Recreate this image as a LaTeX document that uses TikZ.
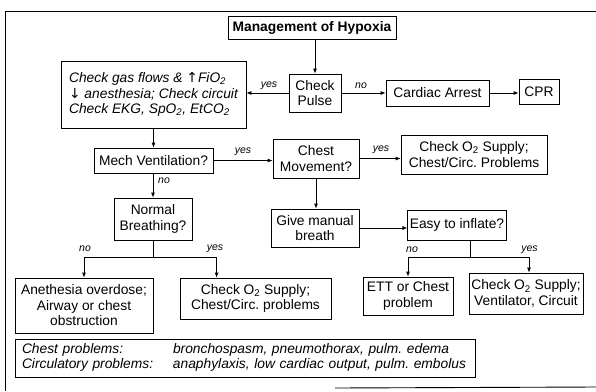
\documentclass[tikz,border=0pt]{standalone}
\usepackage{fontspec}
\setmainfont{Liberation Sans}
\newfontfamily\arrowfont{DejaVu Sans}
\usetikzlibrary{arrows.meta,calc}
\frenchspacing
\begin{document}
\begin{tikzpicture}[x=1pt,y=-1pt,
  box/.style={draw,line width=0.8pt,align=center,inner sep=2pt,font=\fontsize{13.8}{15.5}\selectfont},
  lab/.style={font=\fontsize{10.5}{12}\selectfont\itshape,inner sep=0pt},
  conn/.style={line width=0.8pt},
  arr/.style={conn,-{Latex[length=5pt,width=4pt]}}]
\useasboundingbox (0,0) rectangle (596,391);
% outer frame
\draw[line width=0.9pt] (5,391) -- (5,11) -- (596,11);
\draw[line width=0.9pt] (335,388) -- (596,387);
% nodes
\node[box,font=\fontsize{13.8}{15.5}\selectfont\bfseries,minimum width=168,minimum height=23] (title) at (312,27.5) {Management of Hypoxia};
\node[box,minimum width=52,minimum height=38] (pulse) at (315,93) {Check\\Pulse};
\node[box,minimum width=103,minimum height=26] (arrest) at (437.5,93) {Cardiac Arrest};
\node[box,minimum width=40,minimum height=25] (cpr) at (539,92) {CPR};
\node[box,font=\fontsize{13.8}{15.5}\selectfont\itshape,align=left,minimum width=185,minimum height=67] (gas) at (153.5,94.5)
  {Check gas flows \& {\arrowfont ↑}FiO\textsubscript{2}\\{\arrowfont ↓} anesthesia; Check circuit\\Check EKG, SpO\textsubscript{2}, EtCO\textsubscript{2}};
\node[box,minimum width=119,minimum height=25] (mech) at (153.5,160.5) {Mech Ventilation?};
\node[box,minimum width=86,minimum height=39] (chest) at (316,158.5) {Chest\\Movement?};
\node[box,minimum width=146,minimum height=39] (o2a) at (474,154.5) {Check O\textsubscript{2} Supply;\\Chest/Circ. Problems};
\node[box,minimum width=88,minimum height=38] (manual) at (315,228) {Give manual\\breath};
\node[box,minimum width=88,minimum height=30] (easy) at (457,225) {Easy to inflate?};
\node[box,minimum width=78,minimum height=42] (normal) at (153,219) {Normal\\Breathing?};
\node[box,minimum width=138,minimum height=55] (anes) at (84,305.5) {Anethesia overdose;\\Airway or chest\\obstruction};
\node[box,minimum width=151,minimum height=41] (o2b) at (255.5,298.5) {Check O\textsubscript{2} Supply;\\Chest/Circ. problems};
\node[box,minimum width=90,minimum height=38] (ett) at (408,296) {ETT or Chest\\problem};
\node[box,minimum width=114,minimum height=41] (o2c) at (526,293.5) {Check O\textsubscript{2} Supply;\\Ventilator, Circuit};
\node[box,font=\fontsize{13.8}{15.5}\selectfont\itshape,align=left,text width=446,minimum width=460,minimum height=38] (legend) at (245,358)
  {\begin{tabular}{@{}p{151pt}@{}l@{}}
   Chest problems: & bronchospasm, pneumothorax, pulm. edema\\
   Circulatory problems: & anaphylaxis, low cardiac output, pulm. embolus
   \end{tabular}};
% connectors
\draw[arr] (pulse.north |- title.south) -- (pulse.north);
\draw[arr] (pulse.east) -- (arrest.west);
\draw[arr] (arrest.east) -- (arrest.east -| cpr.west);
\draw[arr] (pulse.west) -- (pulse.west -| gas.east);
\draw[arr] (gas.south) -- (gas.south |- mech.north);
\draw[arr] (mech.east) -- (mech.east -| chest.west);
\draw[arr] (chest.east) -- (chest.east -| o2a.west);
\draw[arr] (chest.south) -- (chest.south |- manual.north);
\draw[arr] (manual.east) -- (manual.east -| easy.west);
\draw[arr] (normal.north |- mech.south) -- (normal.north);
% normal breathing split
\coordinate (jn) at (153,257);
\coordinate (o2bin) at ($(o2b.north west)+(37,0)$);
\draw[conn] (normal.south) -- (jn);
\draw[arr] (jn) -| (anes.north);
\draw[arr] (jn) -| (o2bin);
% easy to inflate split
\coordinate (je) at (470,257);
\coordinate (easyout) at (470,0);
\draw[conn] (easyout |- easy.south) -- (je);
\draw[arr] (je) -| (ett.north);
\draw[arr] (je) -| (529,0 |- o2c.north);
% labels
\node[lab] (l1) at (361,86) {no};
\node[lab] (l2) at (269,86) {yes};
\node[lab] (l3) at (243,152) {yes};
\node[lab] (l4) at (381,150) {yes};
\node[lab] (l5) at (164,181) {no};
\node[lab] (l6) at (85,249) {no};
\node[lab] (l7) at (215,249) {yes};
\node[lab] (l8) at (412,250) {no};
\node[lab] (l9) at (529.5,250) {yes};
\end{tikzpicture}
\end{document}
